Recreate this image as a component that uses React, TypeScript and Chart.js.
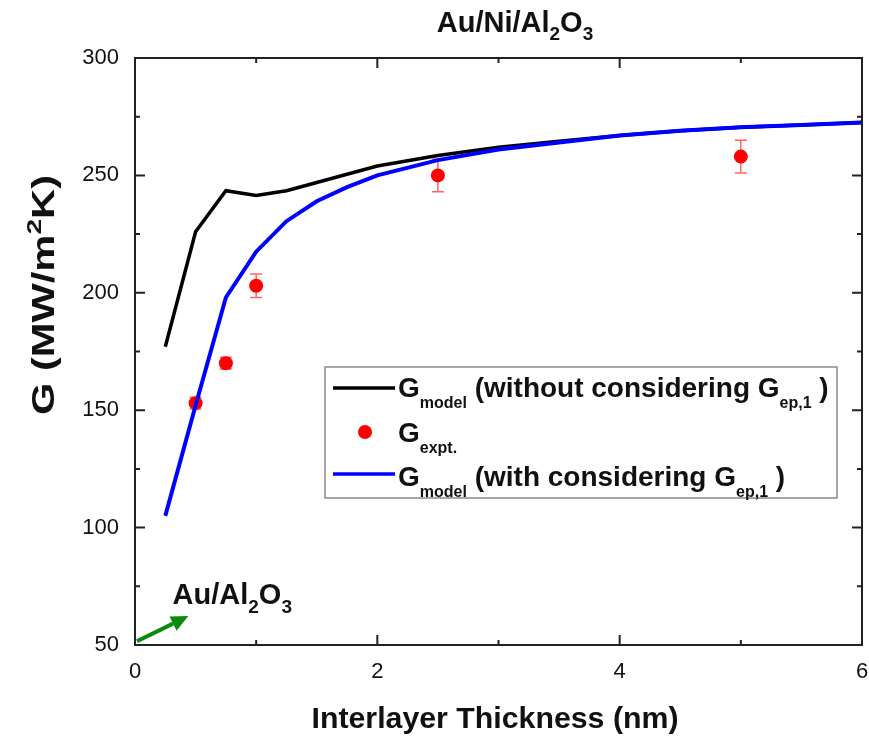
import React, { useEffect, useRef } from "react";
import { Chart, registerables } from "chart.js";

Chart.register(...registerables);

// ---------- data ----------
const modelThickness = [0.25, 0.5, 0.75, 1.0, 1.25, 1.5, 1.75, 2.0, 2.5, 3.0, 3.5, 4.0, 4.5, 5.0, 5.5, 6.0];
const gModelWithout = [177, 226, 243.5, 241.5, 243.5, 247, 250.5, 254, 258.5, 262, 264.5, 267, 269, 270.5, 271.5, 272.5];
const gModelWith = [105, 152, 198, 217.5, 230.5, 239, 245, 250, 256.5, 261, 264, 267, 269, 270.5, 271.5, 272.5];

const exptThickness = [0.5, 0.75, 1.0, 2.5, 5.0];
const gExpt = [153, 170, 203, 250, 258];
const gExptErr = [2.5, 2.5, 5, 7, 7];

const xTicks = [0, 1, 2, 3, 4, 5, 6];
const xTickLabels = ["0", "", "2", "", "4", "", "6"];
const yTicks = [50, 75, 100, 125, 150, 175, 200, 225, 250, 275, 300];

// Au/Al2O3 reference annotation (arrow start = value at zero thickness)
const arrowFrom = { x: 0.016, y: 51.6 };
const arrowTo = { x: 0.44, y: 62.3 };
const annotLabelPos = { x: 0.31, y: 67.5 };

const FONT = "'Liberation Sans', Arial, Helvetica, sans-serif";

type Part = { t: string; size: number; dy?: number };

function richWidth(ctx: CanvasRenderingContext2D, parts: Part[]) {
  let w = 0;
  for (const p of parts) {
    ctx.font = `bold ${p.size}px ${FONT}`;
    w += ctx.measureText(p.t).width;
  }
  return w;
}

function drawRich(
  ctx: CanvasRenderingContext2D,
  parts: Part[],
  x: number,
  y: number,
  align: "left" | "center",
  color = "#111",
  targetWidth?: number
) {
  const w = richWidth(ctx, parts);
  const sx = targetWidth ? targetWidth / w : 1;
  const tw = w * sx;
  const startX = align === "center" ? x - tw / 2 : x;
  ctx.save();
  ctx.translate(startX, y);
  ctx.scale(sx, 1);
  let cx = 0;
  ctx.fillStyle = color;
  ctx.textBaseline = "alphabetic";
  ctx.textAlign = "left";
  for (const p of parts) {
    ctx.font = `bold ${p.size}px ${FONT}`;
    ctx.fillText(p.t, cx, p.dy || 0);
    cx += ctx.measureText(p.t).width;
  }
  ctx.restore();
}

const decorPlugin = {
  id: "decor",
  beforeDatasetsDraw(chart: any) {
    const { ctx } = chart;
    const xs = chart.scales.x;
    const ys = chart.scales.y;
    ctx.save();
    ctx.strokeStyle = "rgba(255,70,70,0.85)";
    ctx.lineWidth = 1.5;
    for (let i = 0; i < exptThickness.length; i++) {
      const px = xs.getPixelForValue(exptThickness[i]);
      const top = ys.getPixelForValue(gExpt[i] + gExptErr[i]);
      const bot = ys.getPixelForValue(gExpt[i] - gExptErr[i]);
      ctx.beginPath();
      ctx.moveTo(px, top);
      ctx.lineTo(px, bot);
      ctx.moveTo(px - 6, top);
      ctx.lineTo(px + 6, top);
      ctx.moveTo(px - 6, bot);
      ctx.lineTo(px + 6, bot);
      ctx.stroke();
    }
    ctx.restore();
  },
  afterDraw(chart: any) {
    const { ctx, chartArea } = chart;
    const xs = chart.scales.x;
    const ys = chart.scales.y;
    const { left, right, top, bottom } = chartArea;
    ctx.save();

    // frame
    ctx.strokeStyle = "#222";
    ctx.lineWidth = 2;
    ctx.strokeRect(left, top, right - left, bottom - top);

    // inward ticks
    ctx.lineWidth = 2;
    ctx.beginPath();
    for (const v of xTicks) {
      const px = xs.getPixelForValue(v);
      const len = v % 2 === 0 ? 10 : 5;
      ctx.moveTo(px, bottom);
      ctx.lineTo(px, bottom - len);
      ctx.moveTo(px, top);
      ctx.lineTo(px, top + len);
    }
    for (const v of yTicks) {
      const py = ys.getPixelForValue(v);
      const len = v % 50 === 0 ? 10 : 5;
      ctx.moveTo(left, py);
      ctx.lineTo(left + len, py);
      ctx.moveTo(right, py);
      ctx.lineTo(right - len, py);
    }
    ctx.stroke();

    // title
    drawRich(
      ctx,
      [
        { t: "Au/Ni/Al", size: 29 },
        { t: "2", size: 19, dy: 8 },
        { t: "O", size: 29 },
        { t: "3", size: 19, dy: 8 },
      ],
      515,
      32,
      "center"
    );

    // x title
    drawRich(ctx, [{ t: "Interlayer Thickness (nm)", size: 30 }], 495, 728, "center", "#111", 367);

    // y title
    ctx.save();
    ctx.translate(54, 295);
    ctx.rotate(-Math.PI / 2);
    drawRich(
      ctx,
      [
        { t: "G (MW/m", size: 31 },
        { t: "2", size: 21, dy: -13 },
        { t: "K)", size: 31 },
      ],
      0,
      0,
      "center",
      "#111",
      240
    );
    ctx.restore();

    // legend
    ctx.strokeStyle = "#8a8a8a";
    ctx.lineWidth = 1.5;
    ctx.strokeRect(325, 367, 512, 131);

    ctx.lineWidth = 3.5;
    ctx.strokeStyle = "#000";
    ctx.beginPath();
    ctx.moveTo(333, 388);
    ctx.lineTo(395, 388);
    ctx.stroke();
    drawRich(
      ctx,
      [
        { t: "G", size: 28 },
        { t: "model", size: 16, dy: 11 },
        { t: " (without considering G", size: 28 },
        { t: "ep,1", size: 16, dy: 11 },
        { t: " )", size: 28 },
      ],
      398,
      397,
      "left"
    );

    ctx.fillStyle = "#ff0000";
    ctx.beginPath();
    ctx.arc(365, 432, 7, 0, Math.PI * 2);
    ctx.fill();
    drawRich(
      ctx,
      [
        { t: "G", size: 28 },
        { t: "expt.", size: 16, dy: 11 },
      ],
      398,
      442,
      "left"
    );

    ctx.strokeStyle = "#0000ff";
    ctx.lineWidth = 3.5;
    ctx.beginPath();
    ctx.moveTo(333, 474);
    ctx.lineTo(395, 474);
    ctx.stroke();
    drawRich(
      ctx,
      [
        { t: "G", size: 28 },
        { t: "model", size: 16, dy: 11 },
        { t: " (with considering G", size: 28 },
        { t: "ep,1", size: 16, dy: 11 },
        { t: " )", size: 28 },
      ],
      398,
      486,
      "left"
    );

    // annotation arrow
    const ax0 = xs.getPixelForValue(arrowFrom.x);
    const ay0 = ys.getPixelForValue(arrowFrom.y);
    const ax1 = xs.getPixelForValue(arrowTo.x);
    const ay1 = ys.getPixelForValue(arrowTo.y);
    const ang = Math.atan2(ay1 - ay0, ax1 - ax0);
    const headLen = 17;
    const headW = 8;
    const bx = ax1 - headLen * Math.cos(ang);
    const by = ay1 - headLen * Math.sin(ang);
    ctx.strokeStyle = "#0a8a0a";
    ctx.fillStyle = "#0a8a0a";
    ctx.lineWidth = 4;
    ctx.beginPath();
    ctx.moveTo(ax0, ay0);
    ctx.lineTo(bx, by);
    ctx.stroke();
    ctx.beginPath();
    ctx.moveTo(ax1, ay1);
    ctx.lineTo(bx + headW * Math.sin(ang), by - headW * Math.cos(ang));
    ctx.lineTo(bx - headW * Math.sin(ang), by + headW * Math.cos(ang));
    ctx.closePath();
    ctx.fill();

    drawRich(
      ctx,
      [
        { t: "Au/Al", size: 29 },
        { t: "2", size: 19, dy: 9 },
        { t: "O", size: 29 },
        { t: "3", size: 19, dy: 9 },
      ],
      xs.getPixelForValue(annotLabelPos.x),
      ys.getPixelForValue(annotLabelPos.y),
      "left"
    );

    ctx.restore();
  },
};

export default function App() {
  const ref = useRef<HTMLCanvasElement | null>(null);

  useEffect(() => {
    if (!ref.current) return;
    const chart = new Chart(ref.current, {
      type: "line",
      data: {
        datasets: [
          {
            label: "G_model (with considering G_ep,1)",
            data: modelThickness.map((x, i) => ({ x, y: gModelWith[i] })),
            borderColor: "#0000ff",
            borderWidth: 4,
            pointRadius: 0,
            tension: 0,
            fill: false,
          },
          {
            label: "G_model (without considering G_ep,1)",
            data: modelThickness.map((x, i) => ({ x, y: gModelWithout[i] })),
            borderColor: "#000000",
            borderWidth: 3.5,
            pointRadius: 0,
            tension: 0,
            fill: false,
          },
          {
            label: "G_expt.",
            data: exptThickness.map((x, i) => ({ x, y: gExpt[i] })),
            showLine: false,
            borderColor: "#ff0000",
            backgroundColor: "#ff0000",
            pointRadius: 7,
            pointBorderWidth: 0,
          },
        ],
      },
      options: {
        animation: false,
        responsive: false,
        maintainAspectRatio: false,
        layout: { padding: { top: 58, right: 5, left: 0, bottom: 0 } },
        plugins: { legend: { display: false }, tooltip: { enabled: false }, title: { display: false } },
        scales: {
          x: {
            type: "linear",
            min: 0,
            max: 6,
            grid: { display: false, drawTicks: false },
            border: { display: false },
            afterFit: (s: any) => {
              s.height = 91;
              s.paddingLeft = 0;
              s.paddingRight = 0;
            },
            afterBuildTicks: (s: any) => {
              s.ticks = xTicks.map((v) => ({ value: v }));
            },
            ticks: {
              autoSkip: false,
              maxRotation: 0,
              padding: 14,
              color: "#111",
              font: { family: FONT, size: 22 },
              callback: (v: any) => xTickLabels[xTicks.indexOf(Number(v))] ?? "",
            },
          },
          y: {
            type: "linear",
            min: 50,
            max: 300,
            grid: { display: false, drawTicks: false },
            border: { display: false },
            afterFit: (s: any) => {
              s.width = 135;
              s.paddingTop = 0;
              s.paddingBottom = 0;
            },
            afterBuildTicks: (s: any) => {
              s.ticks = yTicks.map((v) => ({ value: v }));
            },
            ticks: {
              autoSkip: false,
              padding: 16,
              color: "#111",
              font: { family: FONT, size: 22 },
              callback: (v: any) => (Number(v) % 50 === 0 ? String(v) : ""),
            },
          },
        },
      },
      plugins: [decorPlugin],
    } as any);
    return () => chart.destroy();
  }, []);

  return (
    <div style={{ position: "fixed", left: 0, top: 0, width: 869, height: 736, background: "#fff" }}>
      <canvas ref={ref} width={869} height={736} style={{ width: 869, height: 736 }} />
    </div>
  );
}
